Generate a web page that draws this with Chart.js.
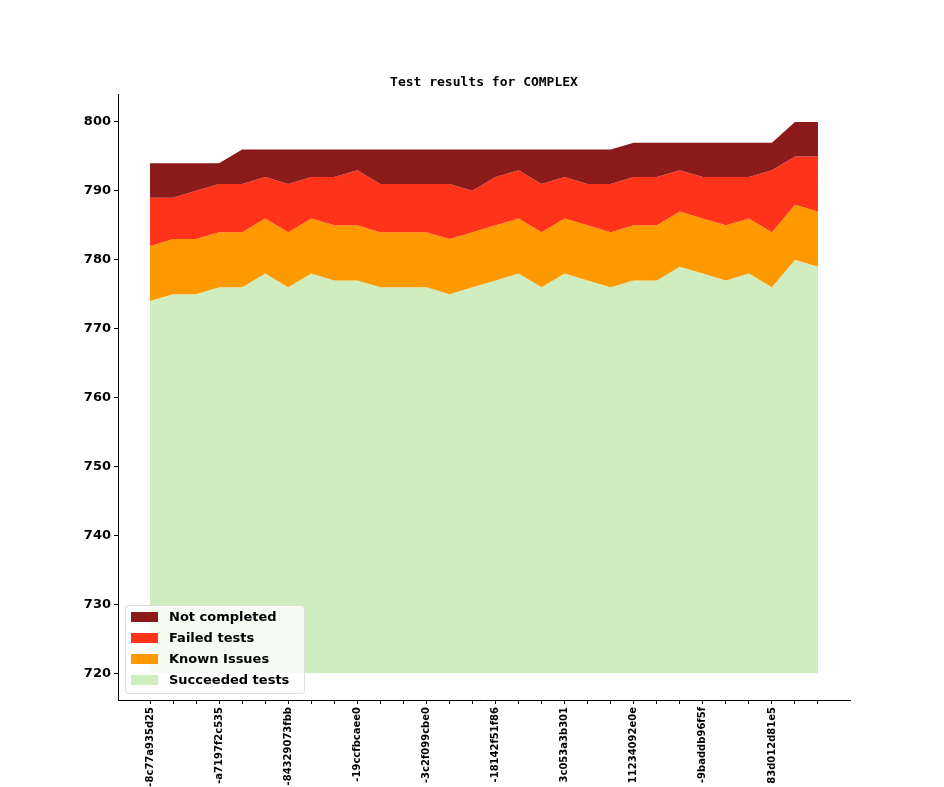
<!DOCTYPE html>
<html>
<head>
<script src="https://cdn.jsdelivr.net/npm/chart.js@4"></script>
<style>body{margin:0;background:#fff}</style>
</head>
<body>
<canvas id="c" width="944" height="787"></canvas>
<script>
const revisions = ['-8c77a935d25','','','-a7197f2c535','','','-84329073fbb','','','-19ccfbcaee0','','','-3c2f099cbe0','','','-18142f51f86','','','3c053a3b301','','','11234092e0e','','','-9baddb96f5f','','','83d012d81e5','',''];
// cumulative tops of each band
const succeeded = [774,775,775,776,776,778,776,778,777,777,776,776,776,775,776,777,778,776,778,777,776,777,777,779,778,777,778,776,780,779];
const knownTop = [782,783,783,784,784,786,784,786,785,785,784,784,784,783,784,785,786,784,786,785,784,785,785,787,786,785,786,784,788,787];
const failedTop = [789,789,790,791,791,792,791,792,792,793,791,791,791,791,790,792,793,791,792,791,791,792,792,793,792,792,792,793,795,795];
const notCompletedTop = [794,794,794,794,796,796,796,796,796,796,796,796,796,796,796,796,796,796,796,796,796,797,797,797,797,797,797,797,800,800];
const yTicks = [720,730,740,750,760,770,780,790,800];

const pts = arr => arr.map((v, i) => ({x: i, y: v}));
const colors = ['#8b1a1a', '#ff321a', '#ff9900', '#cfedbf'];
const names = ['Not completed', 'Failed tests', 'Known Issues', 'Succeeded tests'];

const legendPlugin = {
  id: 'boxLegend',
  afterDraw(chart) {
    const ctx = chart.ctx;
    ctx.save();
    ctx.fillStyle = 'rgba(255,255,255,0.8)';
    ctx.strokeStyle = '#dddddd';
    ctx.lineWidth = 1;
    ctx.beginPath();
    ctx.roundRect(125.5, 605.5, 179, 88, 3);
    ctx.fill();
    ctx.stroke();
    ctx.font = 'bold 13px "DejaVu Sans"';
    ctx.textBaseline = 'middle';
    names.forEach((n, i) => {
      const y = 617 + i * 21;
      ctx.fillStyle = colors[i];
      ctx.fillRect(131, y - 5, 27, 10);
      ctx.fillStyle = '#000';
      ctx.fillText(n, 169, y + 1);
    });
    ctx.font = 'bold 13px "DejaVu Sans Mono"';
    ctx.textAlign = 'center';
    ctx.textBaseline = 'alphabetic';
    ctx.fillText('Test results for COMPLEX', 484, 86);
    ctx.restore();
  }
};

new Chart(document.getElementById('c'), {
  type: 'line',
  data: {
    datasets: [
      {label: names[0], data: pts(notCompletedTop), backgroundColor: colors[0], fill: '+1'},
      {label: names[1], data: pts(failedTop), backgroundColor: colors[1], fill: '+1'},
      {label: names[2], data: pts(knownTop), backgroundColor: colors[2], fill: '+1'},
      {label: names[3], data: pts(succeeded), backgroundColor: colors[3], fill: {value: 720}}
    ].map(d => Object.assign(d, {borderWidth: 0, pointRadius: 0, tension: 0}))
  },
  options: {
    responsive: false,
    animation: false,
    layout: {padding: {top: 94, right: 94, left: 0, bottom: 0}},
    plugins: {legend: {display: false}, tooltip: {enabled: false}},
    scales: {
      x: {
        type: 'linear',
        min: -1.39,
        max: 30.39,
        afterBuildTicks: s => { s.ticks = revisions.map((_, i) => ({value: i})); },
        afterFit: s => { s.height = 87; },
        grid: {drawOnChartArea: false, tickLength: 4, color: '#000'},
        border: {color: '#000'},
        ticks: {
          autoSkip: false, maxRotation: 90, minRotation: 90, color: '#000',
          font: {family: 'DejaVu Sans', size: 10, weight: 'bold'},
          callback: (v) => revisions[v] || ''
        }
      },
      y: {
        min: 716.1,
        max: 804.06,
        afterBuildTicks: s => { s.ticks = yTicks.map(v => ({value: v})); },
        afterFit: s => { s.width = 118; },
        grid: {drawOnChartArea: false, tickLength: 4, color: '#000'},
        border: {color: '#000'},
        ticks: {color: '#000', font: {family: 'DejaVu Sans', size: 13, weight: 'bold'}}
      }
    }
  },
  plugins: [legendPlugin]
});
</script>
</body>
</html>
